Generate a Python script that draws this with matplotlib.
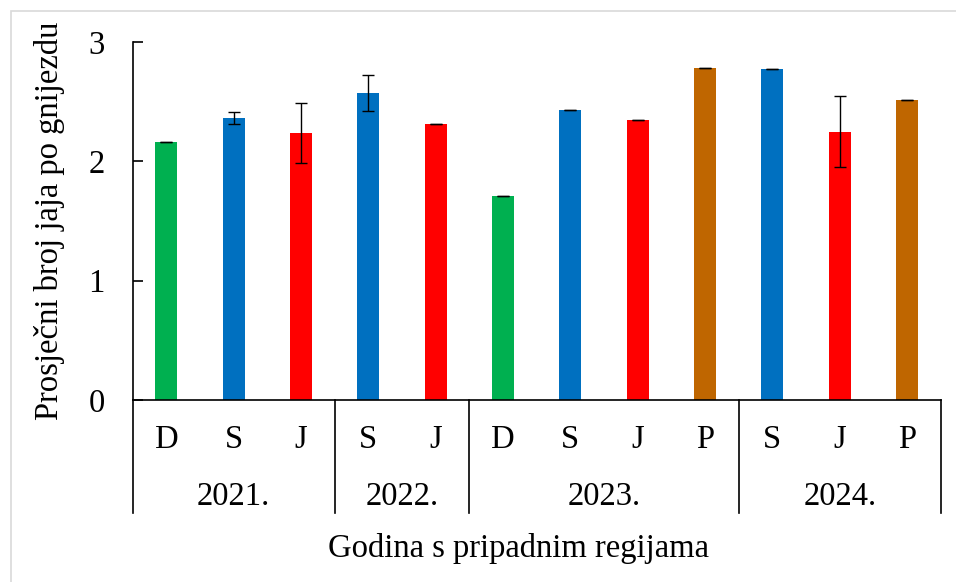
import matplotlib
matplotlib.use("Agg")
import matplotlib.pyplot as plt
from matplotlib.patches import Rectangle
from matplotlib.transforms import blended_transform_factory

plt.rcParams['font.family'] = ['Liberation Serif', 'DejaVu Serif']

regions = ["D", "S", "J", "S", "J", "D", "S", "J", "P", "S", "J", "P"]
years = ["2021.", "2022.", "2023.", "2024."]
group_sizes = [3, 2, 4, 3]
values = [2.16, 2.36, 2.24, 2.57, 2.31, 1.71, 2.43, 2.35, 2.78, 2.77, 2.25, 2.51]
errors = [0.0, 0.05, 0.25, 0.15, 0.0, 0.0, 0.0, 0.0, 0.0, 0.0, 0.30, 0.0]
region_colors = {"D": "#00B050", "S": "#0070C0", "J": "#FF0000", "P": "#BF6600"}
y_ticks = [0, 1, 2, 3]
ylabel = "Prosječni broj jaja po gnijezdu"
xlabel = "Godina s pripadnim regijama"

FS = 23.5
W, H = 956, 582
fig = plt.figure(figsize=(W / 100, H / 100), dpi=100)
ax = fig.add_axes([132.7 / W, 1 - 400 / H, (940.7 - 132.7) / W, (400 - 42) / H])

x = list(range(len(values)))
colors = [region_colors[r] for r in regions]
ax.bar(x, values, width=0.33, color=colors, zorder=2)
ax.errorbar(x, values, yerr=errors, fmt='none', ecolor='black', elinewidth=1.0,
            capsize=4.5, capthick=1.0, zorder=3)

ax.set_xlim(-0.5, len(values) - 0.5)
ax.set_ylim(0, 3)
ax.set_yticks(y_ticks)
ax.set_yticklabels([str(t) for t in y_ticks])
ax.tick_params(axis='y', direction='in', length=7, width=1.2, pad=20, labelsize=FS)
ax.set_xticks([])
for s in ['top', 'right']:
    ax.spines[s].set_visible(False)
for s in ['left', 'bottom']:
    ax.spines[s].set_linewidth(1.2)

trans = blended_transform_factory(ax.transData, ax.transAxes)
h_ax = 400 - 42
line_bottom = -113 / h_ax
cat_y = -40 / h_ax
year_y = -97 / h_ax

# region labels
for xi, r in zip(x, regions):
    ax.text(xi, cat_y, r, transform=trans, ha='center', va='center', fontsize=FS)

# group separators and year labels
start = 0
bounds = [start - 0.5]
for yr, n in zip(years, group_sizes):
    center = start + (n - 1) / 2
    ax.text(center, year_y, yr, transform=trans, ha='center', va='center', fontsize=FS)
    start += n
    bounds.append(start - 0.5)
for b in bounds:
    ax.plot([b, b], [0, line_bottom], transform=trans, color='black', lw=1.2, clip_on=False)

fig.text(50 / W, 1 - 221 / H, ylabel, rotation=90, ha='center', va='center', fontsize=FS)
fig.text(518 / W, 1 - 548 / H, xlabel, ha='center', va='center', fontsize=FS)

fig.patches.append(Rectangle((11 / W, -0.1), 1.2, 1 - 11 / H + 0.1, transform=fig.transFigure,
                             fill=False, edgecolor='#D9D9D9', lw=1.2))

fig.savefig("out.png", dpi=100)
